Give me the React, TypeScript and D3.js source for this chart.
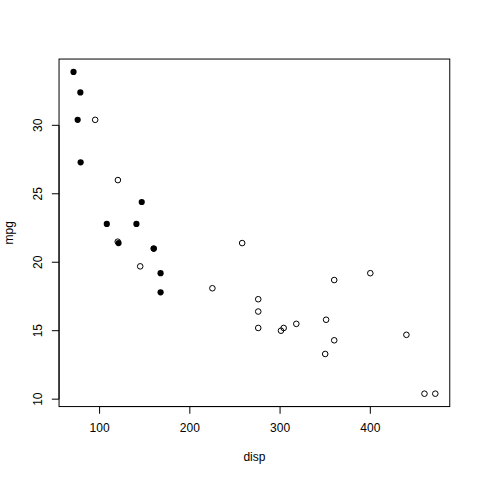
import React from "react";
import * as d3 from "d3";

const disp = [160, 160, 108, 258, 360, 225, 360, 146.7, 140.8, 167.6, 167.6, 275.8, 275.8, 275.8, 472, 460, 440, 78.7, 75.7, 71.1, 120.1, 318, 304, 350, 400, 79, 120.3, 95.1, 351, 145, 301, 121];
const mpg = [21, 21, 22.8, 21.4, 18.7, 18.1, 14.3, 24.4, 22.8, 19.2, 17.8, 16.4, 17.3, 15.2, 10.4, 10.4, 14.7, 32.4, 30.4, 33.9, 21.5, 15.5, 15.2, 13.3, 19.2, 27.3, 26, 30.4, 15.8, 19.7, 15, 21.4];
const filled = [1, 1, 1, 0, 0, 0, 0, 1, 1, 1, 1, 0, 0, 0, 0, 0, 0, 1, 1, 1, 0, 0, 0, 0, 0, 1, 0, 0, 0, 0, 0, 1];
const xTicks = [100, 200, 300, 400];
const yTicks = [10, 15, 20, 25, 30];

export default function App() {
  const W = 480, H = 480;
  const lh = 14.4;
  const L = 59.04, R = 449.76, T = 59.04, B = 406.56;
  const [xmin, xmax] = d3.extent(disp) as [number, number];
  const [ymin, ymax] = d3.extent(mpg) as [number, number];
  const px = (xmax - xmin) * 0.04, py = (ymax - ymin) * 0.04;
  const x = d3.scaleLinear().domain([xmin - px, xmax + px]).range([L, R]);
  const y = d3.scaleLinear().domain([ymin - py, ymax + py]).range([B, T]);
  const font = "'Liberation Sans', Arial, sans-serif";
  const order = d3.range(disp.length).sort((a, b) => filled[a] - filled[b]);
  return (
    <svg width={W} height={H} style={{ position: "absolute", left: 0, top: 0, background: "#fff" }} fontFamily={font}>
      <rect x={L} y={T} width={R - L} height={B - T} fill="none" stroke="#000" strokeWidth={1} />
      <line x1={x(100)} x2={x(400)} y1={B} y2={B} stroke="#000" />
      <line x1={L} x2={L} y1={y(10)} y2={y(30)} stroke="#000" />
      {xTicks.map((t) => (
        <g key={t}>
          <line x1={x(t)} x2={x(t)} y1={B} y2={B + lh / 2} stroke="#000" />
          <text x={x(t)} y={B + lh * 1.8} textAnchor="middle" fontSize={12}>{t}</text>
        </g>
      ))}
      {yTicks.map((t) => (
        <g key={t}>
          <line x1={L} x2={L - lh / 2} y1={y(t)} y2={y(t)} stroke="#000" />
          <text transform={`translate(${L - lh * 1.2},${y(t)}) rotate(-90)`} textAnchor="middle" fontSize={12}>{t}</text>
        </g>
      ))}
      <text x={(L + R) / 2} y={B + lh * 3.8} textAnchor="middle" fontSize={12}>disp</text>
      <text transform={`translate(${L - lh * 3.2},${(T + B) / 2}) rotate(-90)`} textAnchor="middle" fontSize={12}>mpg</text>
      {order.map((i) =>
        filled[i] ? (
          <circle key={i} cx={x(disp[i])} cy={y(mpg[i])} r={3.1} fill="#000" />
        ) : (
          <circle key={i} cx={x(disp[i])} cy={y(mpg[i])} r={2.8} fill="none" stroke="#000" strokeWidth={1} />
        )
      )}
    </svg>
  );
}
